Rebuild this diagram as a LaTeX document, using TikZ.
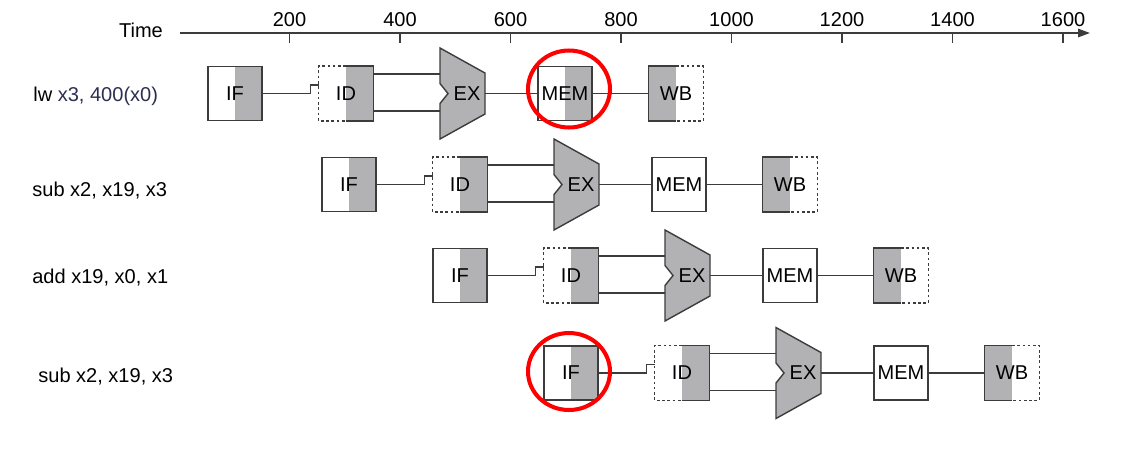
\documentclass[tikz,border=0pt]{standalone}
\usepackage{fontspec}
\setmainfont{Liberation Sans}
\usetikzlibrary{arrows.meta}
\definecolor{pipegray}{RGB}{178,178,181}
\definecolor{wirecol}{RGB}{60,60,60}
\definecolor{regblue}{RGB}{45,45,80}
\newcommand{\pipefont}{\fontsize{11.4}{13}\selectfont}
\tikzset{
  wire/.style={draw=wirecol, line width=0.8pt},
  halfdash/.style={draw=wirecol, line width=0.8pt, dash pattern=on 1.5pt off 1.5pt},
  stagebox/.style={minimum width=1.08cm, minimum height=1.08cm, inner sep=0pt},
  halfcol/.style={path picture={\fill[#1] (path picture bounding box.north) rectangle (path picture bounding box.south east);}},
  grayright/.style={halfcol=pipegray},
  grayleft/.style={path picture={\fill[pipegray] (path picture bounding box.north west) rectangle (path picture bounding box.south);}},
  hilite/.style={draw=red, line width=2.3pt},
}
\begin{document}
\begin{tikzpicture}[x=0.02cm, y=-0.02cm, font=\pipefont]
  \useasboundingbox (0,0) rectangle (1144,474);
  %% time axis
  \coordinate (tstart) at (180,33);
  \coordinate (tend) at (1090,33);
  \node (timelbl) at (141,30) {Time};
  \draw[wire, -{Triangle[length=0.24cm, width=0.17cm]}] (tstart) -- (tend);
  \foreach \t in {200,400,...,1600} {
    \draw[wire] (179+0.5525*\t,33) -- ++(0,10);
    \node (tick\t) at (179+0.5525*\t,20) {\t};
  }
  %% instructions
  \node[anchor=west, inner sep=0pt] (ins1) at (33,96.5) {lw \textcolor{regblue}{x3, 400(x0)}};
  \node[anchor=west, inner sep=0pt] (ins2) at (32,191) {sub x2, x19, x3};
  \node[anchor=west, inner sep=0pt] (ins3) at (32,278) {add x19, x0, x1};
  \node[anchor=west, inner sep=0pt] (ins4) at (38,376.5) {sub x2, x19, x3};
  %% pipeline rows: IF, ID, EX, MEM, WB
  \foreach \r/\dx/\y/\memcol in {1/0/93.5/pipegray, 2/114/184.5/white, 3/225/275.5/white, 4/336/373/white} {
    \begin{scope}[shift={(\dx,\y)}]
      \node[stagebox, wire, grayright] (if\r) at (235,0) {IF};
      \node[stagebox, grayright] (id\r) at (346,0) {ID};
      \draw[wire] (id\r.north) -- (id\r.north east) -- (id\r.south east) -- (id\r.south);
      \draw[halfdash] (id\r.north) -- (id\r.north west) -- (id\r.south west) -- (id\r.south);
      \draw[wire, fill=pipegray] (440,-45.5) -- (485,-20.5) -- (485,20.5) -- (440,45.5)
        -- (440,10) -- (448,0) -- (440,-10) -- cycle;
      \node (ex\r) at (467,0) {EX};
      \coordinate (exa\r) at (440,-19.5);
      \coordinate (exb\r) at (440,17.5);
      \coordinate (exo\r) at (485,0);
      \node[stagebox, wire, halfcol=\memcol] (mem\r) at (565,0) {MEM};
      \node[stagebox, grayleft] (wb\r) at (676,0) {WB};
      \draw[wire] (wb\r.north) -- (wb\r.north west) -- (wb\r.south west) -- (wb\r.south);
      \draw[halfdash] (wb\r.north) -- (wb\r.north east) -- (wb\r.south east) -- (wb\r.south);
      %% connectors
      \draw[wire] (if\r.east) -- ([xshift=-0.16cm]id\r.west) |- ([yshift=0.17cm]id\r.west);
      \draw[wire] (id\r.east |- exa\r) -- (exa\r);
      \draw[wire] (id\r.east |- exb\r) -- (exb\r);
      \draw[wire] (exo\r) -- (mem\r.west);
      \draw[wire] (mem\r.east) -- (wb\r.west);
    \end{scope}
  }
  %% hazard marks
  \draw[hilite] ([xshift=0.08cm, yshift=0.09cm]mem1.center) ellipse [x radius=0.82cm, y radius=0.77cm];
  \draw[hilite] ([xshift=-0.04cm, yshift=0.03cm]if4.center) ellipse [x radius=0.82cm, y radius=0.77cm];
\end{tikzpicture}
\end{document}
